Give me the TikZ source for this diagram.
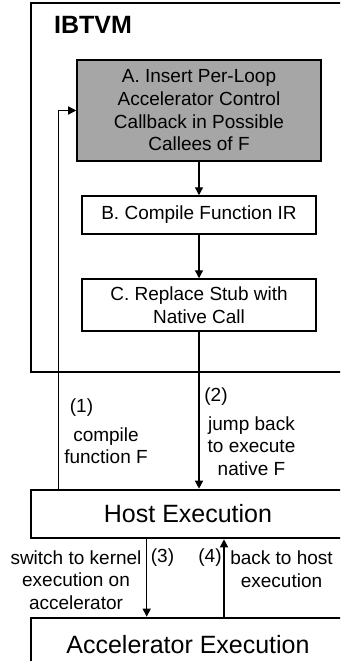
\documentclass[tikz,border=0pt]{standalone}
\usepackage{fontspec}
\setmainfont{Liberation Sans}
\usetikzlibrary{arrows.meta}
\definecolor{stepgray}{RGB}{166,166,166}
\begin{document}
\begin{tikzpicture}[x=1bp,y=-1bp,
  frame/.style={draw, line width=2.6bp, inner sep=0pt},
  stage/.style={draw, line width=1.5bp, inner sep=0pt, align=center,
    font=\fontsize{19bp}{22.7bp}\selectfont},
  lbl/.style={inner sep=0pt, align=center, font=\fontsize{19bp}{22.5bp}\selectfont},
  bigtext/.style={font=\fontsize{25bp}{30bp}\selectfont},
  arr/.style={line width=1.3bp, -{Triangle[length=8bp,width=8bp]}},
]
\useasboundingbox (0,0) rectangle (340,661);
\clip (0,0) rectangle (340,661);

% VM container and its title
\node[frame, minimum width=314bp, minimum height=369bp] (vm) at (188,187.5) {};
\node[bigtext, font=\fontsize{25bp}{30bp}\selectfont\bfseries, anchor=base west, inner sep=0pt]
  (vmname) at (54,34) {IBTVM};

% compilation stages
\node[stage, fill=stepgray, minimum width=244bp, minimum height=101bp] (A) at (199,110.5)
  {A. Insert Per-Loop\\Accelerator Control\\Callback in Possible\\Callees of F};
\node[stage, minimum width=234bp, minimum height=38bp] (B) at (199,215)
  {B. Compile Function IR};
\node[stage, minimum width=234bp, minimum height=52bp] (C) at (199,305)
  {C. Replace Stub with\\Native Call};

% execution contexts
\node[frame, bigtext, minimum width=314bp, minimum height=48bp] (host) at (188,514)
  {Host Execution};
\node[frame, bigtext, minimum width=314bp, minimum height=54bp] (accel) at (188,645)
  {Accelerator Execution};

% connector columns
\coordinate (lx) at (58.7,0);
\coordinate (dx) at (146.7,0);
\coordinate (ux) at (224,0);

\draw[arr] (A) -- (B);
\draw[arr] (B) -- (C);
\draw[arr] (host.north -| lx) |- (A.west);
\draw[arr] (C.south) -- (C.south |- host.north);
\draw[arr] (host.south -| dx) -- (accel.north -| dx);
\draw[arr] (accel.north -| ux) -- (host.south -| ux);

% connector labels
\node[lbl] (n1) at (81.5,408) {(1)};
\node[lbl, font=\fontsize{19bp}{21.5bp}\selectfont] (t1) at (106,445.5) {compile\\function F};
\node[lbl] (n2) at (216,396.5) {(2)};
\node[lbl] (t2) at (251.5,446) {jump back\\to execute\\native F};
\node[lbl] (t3) at (76,580) {switch to kernel\\execution on\\accelerator};
\node[lbl] (n3) at (162.5,558) {(3)};
\node[lbl] (n4) at (210,558) {(4)};
\node[lbl] (t4) at (281.5,569) {back to host\\execution};
\end{tikzpicture}
\end{document}
